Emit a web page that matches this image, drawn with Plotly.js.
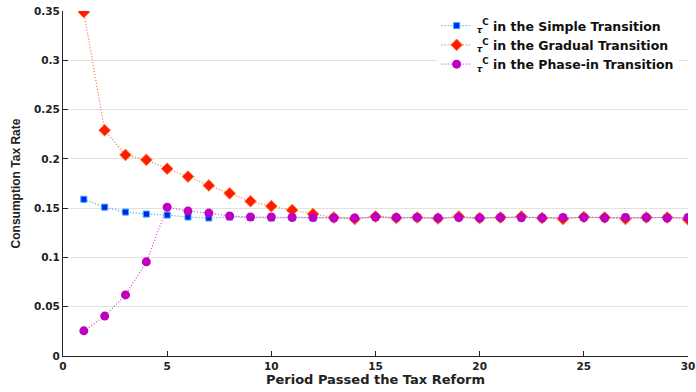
<!DOCTYPE html>
<html><head><meta charset="utf-8">
<script src="https://cdn.plot.ly/plotly-3.0.1.min.js"></script>
<style>html,body{margin:0;padding:0;background:#fff}#chart{width:696px;height:392px}</style>
</head><body><div id="chart"></div>
<script>
const periods = [1,2,3,4,5,6,7,8,9,10,11,12,13,14,15,16,17,18,19,20,21,22,23,24,25,26,27,28,29,30];
const simpleTau = [0.159,0.151,0.146,0.144,0.143,0.141,0.140,0.141,0.1405,0.140,0.1405,0.140,0.1405,0.140,0.1405,0.140,0.1405,0.140,0.1405,0.140,0.1405,0.140,0.1405,0.140,0.1405,0.140,0.1405,0.140,0.1405,0.140];
const gradualTau = [0.349,0.229,0.204,0.199,0.190,0.182,0.173,0.165,0.157,0.152,0.148,0.144,0.1405,0.139,0.1415,0.140,0.1405,0.1395,0.1415,0.140,0.1405,0.1415,0.140,0.139,0.141,0.1405,0.139,0.1405,0.1405,0.1385];
const phaseTau = [0.0255,0.0405,0.062,0.0955,0.151,0.147,0.145,0.142,0.141,0.141,0.1405,0.1405,0.140,0.140,0.141,0.1405,0.1405,0.140,0.1405,0.140,0.1405,0.1405,0.140,0.1405,0.1405,0.140,0.1405,0.1405,0.140,0.1405];
const seriesNames = ['<sub><i>τ</i></sub><sup>C</sup> in the Simple Transition','<sub><i>τ</i></sub><sup>C</sup> in the Gradual Transition','<sub><i>τ</i></sub><sup>C</sup> in the Phase-in Transition'];
const xTicks = [0,5,10,15,20,25,30];
const yTicks = [0,0.05,0.1,0.15,0.2,0.25,0.3,0.35];
const yTickText = ['0','0.05','0.1','0.15','0.2','0.25','0.3','0.35'];

const traces = [
  {x: periods, y: simpleTau, name: seriesNames[0], type:'scatter', mode:'lines+markers',
   line:{color:'#3a9cf0', dash:'1px,2px', width:1.2},
   marker:{symbol:'square', size:6, color:'#0022ee', line:{color:'#2aa8ff', width:1}}},
  {x: periods, y: gradualTau, name: seriesNames[1], type:'scatter', mode:'lines+markers',
   line:{color:'#f07040', dash:'1px,2px', width:1.2},
   marker:{symbol:'diamond', size:9, color:'#ff1a00', line:{color:'#ff7a30', width:1}}},
  {x: periods, y: phaseTau, name: seriesNames[2], type:'scatter', mode:'lines+markers',
   line:{color:'#d040d8', dash:'1px,2px', width:1.2},
   marker:{symbol:'circle', size:9, color:'#c000c0', line:{color:'#c000c0', width:0}}}
];

const layout = {
  width:696, height:392,
  margin:{l:63, r:8, t:11, b:36},
  paper_bgcolor:'#fff', plot_bgcolor:'#fff',
  font:{family:'DejaVu Sans, sans-serif', size:11, color:'#222'},
  showlegend:true,
  legend:{x:0.985, y:1.0, xanchor:'right', yanchor:'top', bgcolor:'rgba(255,255,255,1)',
    font:{family:'DejaVu Sans, sans-serif', size:12.5, color:'#111', weight:'bold'},
    tracegroupgap:0},
  xaxis:{range:[0,30], tickvals:xTicks, ticktext:xTicks.map(String), ticks:'inside', ticklen:5,
    tickcolor:'#222', showline:true, linecolor:'#222', linewidth:1, showgrid:false, zeroline:false,
    tickfont:{size:10.5, weight:'bold', color:'#222'},
    title:{text:'Period Passed the Tax Reform', font:{size:13, weight:'bold', color:'#222'}, standoff:1}},
  yaxis:{range:[0,0.35], tickvals:yTicks, ticktext:yTickText, ticks:'inside', ticklen:5,
    tickcolor:'#222', showline:true, linecolor:'#222', linewidth:1, showgrid:true, gridcolor:'#e2e2e2',
    zeroline:false, tickfont:{size:10.5, weight:'bold', color:'#222'},
    title:{text:'Consumption Tax Rate', font:{family:'Liberation Sans Narrow, Liberation Sans, sans-serif', size:12, weight:'bold', color:'#222'}, standoff:10}}
};
Plotly.newPlot('chart', traces, layout, {displayModeBar:false, staticPlot:true});
</script></body></html>
